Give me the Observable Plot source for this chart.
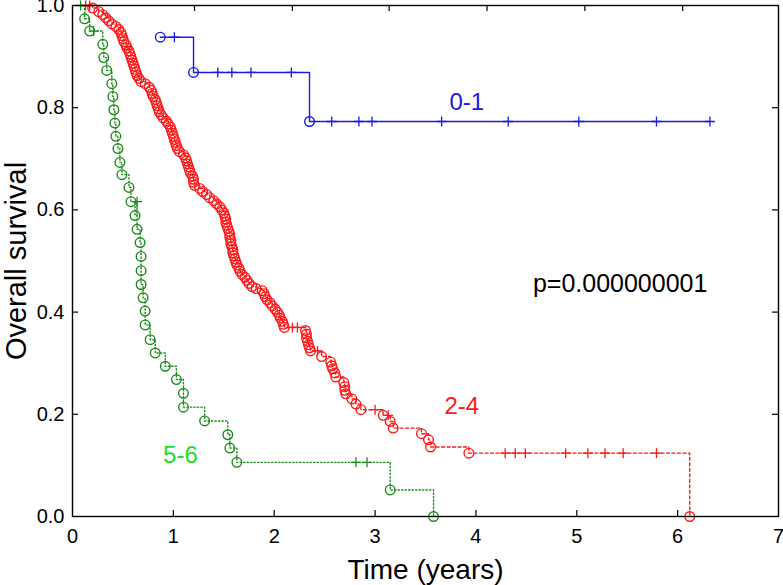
<!DOCTYPE html>
<html>
<head>
<meta charset="utf-8">
<script src="https://cdn.jsdelivr.net/npm/d3@7"></script>
<script src="https://cdn.jsdelivr.net/npm/@observablehq/plot@0.6"></script>
<style>
  body { margin: 0; background: #fff; }
  #chart svg { display: block; }
</style>
</head>
<body>
<div id="chart"></div>
<script>
// ---- tick values ----
const xTicks = [0, 1, 2, 3, 4, 5, 6, 7];
const yTicks = [0, 0.2, 0.4, 0.6, 0.8, 1.0];
const topTicks = [1.21, 2.18, 3.14, 4.11, 5.08, 6.05];

// ---- group 0-1 (blue) : [time, survival] ----
const blueEvents = [[0.87, 0.938], [1.20, 0.869], [2.35, 0.773]];
const blueCensored = [[1.01, 0.938], [1.44, 0.869], [1.58, 0.869], [1.77, 0.869], [2.17, 0.869],
  [2.57, 0.773], [2.84, 0.773], [2.97, 0.773], [3.66, 0.773], [4.32, 0.773], [5.02, 0.773], [5.79, 0.773], [6.32, 0.773]];

// ---- group 2-4 (red) ----
const redEvents = [
  [0.20, 0.995], [0.26, 0.988], [0.30, 0.982], [0.33, 0.976], [0.36, 0.970], [0.39, 0.964], [0.43, 0.959],
  [0.46, 0.953], [0.48, 0.947], [0.49, 0.941], [0.50, 0.935], [0.51, 0.929], [0.53, 0.923], [0.54, 0.917],
  [0.56, 0.911], [0.57, 0.905], [0.58, 0.899], [0.59, 0.893], [0.60, 0.887], [0.61, 0.881], [0.62, 0.875],
  [0.63, 0.869], [0.64, 0.863], [0.66, 0.857], [0.68, 0.851], [0.72, 0.847], [0.76, 0.840], [0.78, 0.834],
  [0.79, 0.828], [0.80, 0.822], [0.82, 0.816], [0.83, 0.810], [0.84, 0.804], [0.85, 0.798], [0.86, 0.792],
  [0.88, 0.786], [0.90, 0.780], [0.93, 0.774], [0.95, 0.768], [0.97, 0.762], [0.98, 0.756], [0.99, 0.750],
  [1.00, 0.744], [1.01, 0.738], [1.02, 0.732], [1.03, 0.726], [1.04, 0.720], [1.06, 0.714], [1.10, 0.708],
  [1.12, 0.702], [1.13, 0.696], [1.14, 0.690], [1.15, 0.684], [1.16, 0.678], [1.17, 0.672], [1.19, 0.666],
  [1.20, 0.660], [1.20, 0.654], [1.21, 0.648], [1.26, 0.642], [1.29, 0.636], [1.33, 0.630], [1.36, 0.624],
  [1.40, 0.618], [1.43, 0.612], [1.46, 0.606], [1.48, 0.600], [1.50, 0.594], [1.51, 0.588], [1.52, 0.582],
  [1.52, 0.576], [1.53, 0.570], [1.54, 0.564], [1.55, 0.558], [1.56, 0.552], [1.56, 0.546], [1.57, 0.540],
  [1.57, 0.534], [1.58, 0.528], [1.59, 0.522], [1.59, 0.516], [1.60, 0.510], [1.61, 0.504], [1.62, 0.498],
  [1.63, 0.492], [1.65, 0.486], [1.66, 0.480], [1.68, 0.474], [1.71, 0.468], [1.73, 0.462], [1.75, 0.456],
  [1.78, 0.450], [1.82, 0.446], [1.88, 0.442], [1.90, 0.436], [1.91, 0.430], [1.93, 0.424], [1.96, 0.418],
  [1.98, 0.412], [2.01, 0.406], [2.03, 0.400], [2.05, 0.394], [2.06, 0.388], [2.08, 0.382], [2.09, 0.376],
  [2.10, 0.370], [2.31, 0.364], [2.32, 0.357], [2.32, 0.350], [2.33, 0.343], [2.34, 0.336], [2.35, 0.330],
  [2.36, 0.324], [2.47, 0.313], [2.56, 0.302], [2.57, 0.295], [2.58, 0.289], [2.60, 0.281], [2.61, 0.273],
  [2.69, 0.262], [2.70, 0.254], [2.70, 0.247], [2.71, 0.240], [2.77, 0.230], [2.81, 0.220], [2.86, 0.209],
  [3.08, 0.198], [3.15, 0.186], [3.18, 0.173], [3.46, 0.162], [3.53, 0.150], [3.55, 0.136], [3.93, 0.124],
  [6.12, 0.0]
];
const redCensored = [[0.13, 1.0], [0.17, 1.0], [2.18, 0.370], [2.23, 0.370], [2.43, 0.324], [3.00, 0.209], [3.13, 0.198],
  [4.29, 0.124], [4.39, 0.124], [4.49, 0.124], [4.89, 0.124], [5.11, 0.124], [5.28, 0.124], [5.46, 0.124], [5.79, 0.124]];

// ---- group 5-6 (green) ----
const greenEvents = [
  [0.12, 0.974], [0.17, 0.950], [0.30, 0.924], [0.31, 0.898], [0.34, 0.873], [0.39, 0.847], [0.40, 0.822],
  [0.41, 0.796], [0.42, 0.770], [0.43, 0.744], [0.45, 0.720], [0.47, 0.693], [0.49, 0.669], [0.56, 0.644],
  [0.58, 0.616], [0.62, 0.589], [0.64, 0.562], [0.67, 0.536], [0.68, 0.509], [0.68, 0.481], [0.68, 0.454],
  [0.70, 0.428], [0.72, 0.402], [0.72, 0.375], [0.77, 0.346], [0.82, 0.320], [0.92, 0.294], [1.03, 0.268],
  [1.10, 0.241], [1.10, 0.214], [1.31, 0.187], [1.54, 0.160], [1.56, 0.134], [1.63, 0.106], [3.15, 0.052],
  [3.58, 0.0]
];
const greenCensored = [[0.08, 1.0], [0.21, 0.950], [0.64, 0.616], [2.81, 0.106], [2.92, 0.106]];

// ---- colours ----
const blue = "#1a1ae6", red = "#ff1a1a", green = "#1a8c1a", labelGreen = "#22e022";

// merge events + censored into a step path, sorted by time then survival desc
const path = (ev, ce) => [...ev, ...ce].sort((a, b) => a[0] - b[0] || b[1] - a[1]);

const plusSymbol = {
  draw(ctx, size) {
    const r = Math.sqrt(size / Math.PI);
    ctx.moveTo(0, -r); ctx.lineTo(0, r);
    ctx.moveTo(-r, 0); ctx.lineTo(r, 0);
  }
};

const W = 783, H = 585, mL = 72, mR = 5, mT = 5, mB = 69;
const pw = W - mL - mR, ph = H - mT - mB;

const series = [
  {ev: blueEvents, ce: blueCensored, color: blue, dash: null},
  {ev: redEvents, ce: redCensored, color: red, dash: "3,2.5"},
  {ev: greenEvents, ce: greenCensored, color: green, dash: "1.3,2.2"}
];

const marks = [];
for (const s of series) {
  marks.push(Plot.line(path(s.ev, s.ce), {x: d => d[0], y: d => d[1], curve: "step-after",
    stroke: s.color, strokeWidth: 1.4, strokeDasharray: s.dash}));
}
for (const s of series) {
  marks.push(Plot.dot(s.ev, {x: d => d[0], y: d => d[1], r: 4.8, stroke: s.color, fill: "none", strokeWidth: 1.4}));
  marks.push(Plot.dot(s.ce, {x: d => d[0], y: d => d[1], r: 5, symbol: plusSymbol, stroke: s.color, fill: "none", strokeWidth: 1.3}));
}

const chart = Plot.plot({
  width: W, height: H,
  marginLeft: mL, marginRight: mR, marginTop: mT, marginBottom: mB,
  style: {fontFamily: "'Liberation Sans', Arial, sans-serif", fontSize: "20px", background: "#fff", overflow: "visible"},
  x: {domain: [0, 7]},
  y: {domain: [0, 1]},
  marks: [
    ...marks,
    Plot.frame({stroke: "black", strokeWidth: 1.4}),
    Plot.tickX(xTicks.slice(1, -1), {x: d => d, insetTop: ph - 6, stroke: "black", strokeWidth: 1.2}),
    Plot.tickX(topTicks, {x: d => d, insetBottom: ph - 6, stroke: "black", strokeWidth: 1.2}),
    Plot.tickY(yTicks.slice(1, -1), {y: d => d, insetRight: pw - 6, stroke: "black", strokeWidth: 1.2}),
    Plot.tickY(yTicks.slice(1, -1), {y: d => d, insetLeft: pw - 6, stroke: "black", strokeWidth: 1.2}),
    Plot.axisX(xTicks, {tickSize: 0, tickPadding: 12, label: null, fontSize: 20, tickFormat: d => String(d)}),
    Plot.axisY(yTicks, {tickSize: 0, tickPadding: 8, label: null, fontSize: 20, tickFormat: d3.format(".1f")}),
    Plot.text(["Time (years)"], {frameAnchor: "bottom", dy: 54, lineAnchor: "middle", textAnchor: "middle", fontSize: 28, fill: "black"}),
    Plot.text(["Overall survival"], {frameAnchor: "left", dx: -56, rotate: -90, textAnchor: "middle", lineAnchor: "middle", fontSize: 29, fill: "black"}),
    Plot.text(["0-1"], {x: 3.91, y: 0.81, fill: blue, fontSize: 24}),
    Plot.text(["2-4"], {x: 3.86, y: 0.215, fill: red, fontSize: 24}),
    Plot.text(["5-6"], {x: 1.07, y: 0.12, fill: labelGreen, fontSize: 24}),
    Plot.text(["p=0.000000001"], {x: 5.43, y: 0.455, fill: "black", fontSize: 25})
  ]
});
document.getElementById("chart").appendChild(chart);
</script>
</body>
</html>
